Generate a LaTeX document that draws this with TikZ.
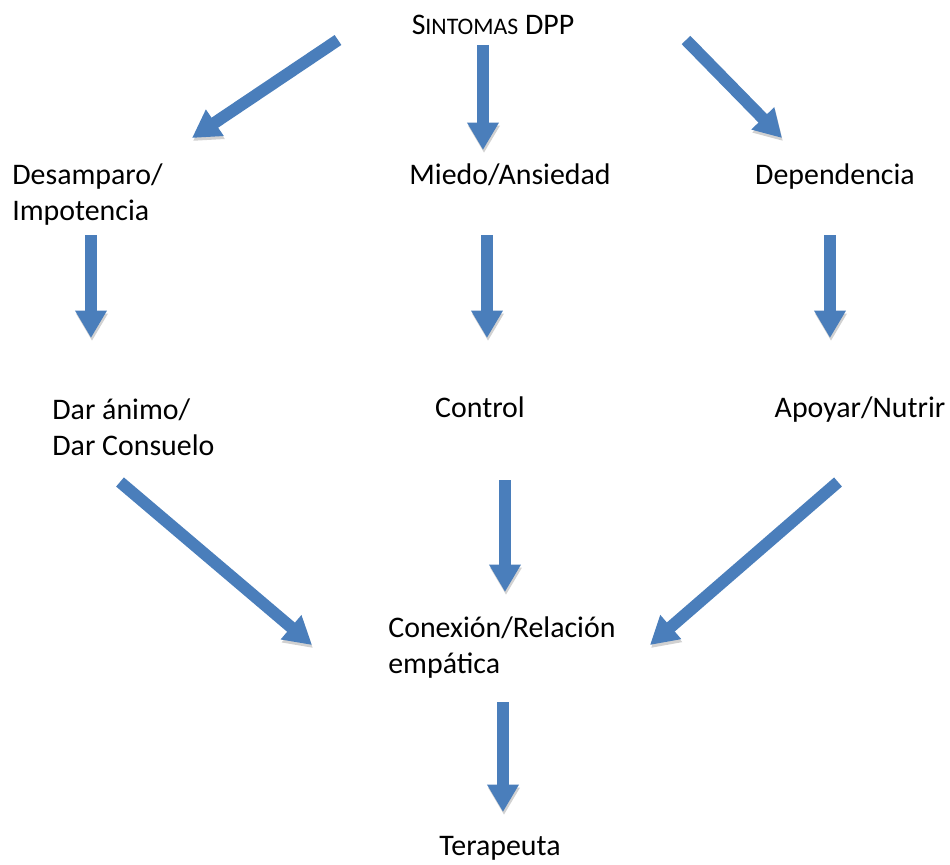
\documentclass[tikz,border=0pt]{standalone}
\usepackage{fontspec}
\setmainfont{Carlito}
\usepackage{tikz}
\usetikzlibrary{calc,positioning}
\usetikzlibrary{arrows.meta}
\definecolor{officeblue}{RGB}{74,126,187}

\begin{document}
\begin{tikzpicture}[x=0.02cm, y=-0.02cm]
      \tikzstyle{tnode} = [inner sep = 0pt, font=\fontsize{17}{20}\selectfont]
      \tikzstyle{lnode} = [tnode, align=left, anchor=base west]
      \tikzstyle{barrow} = [line width=0.24cm, draw=officeblue, -{Triangle[width=0.6cm,length=0.55cm]},
                            preaction={draw=black!18, transform canvas={shift={(1,3)}}}]

      \useasboundingbox (0,0) rectangle (950,865);

      % level 0
      \node[tnode, anchor=base] (sint) at (493,35) {S{\fontsize{13.5}{20}\selectfont INTOMAS} DPP};

      % level 1
      \node[lnode] (desa) at (12,220) {Desamparo/\\Impotencia};
      \node[tnode, anchor=base] (miedo) at (510,184) {Miedo/Ansiedad};
      \node[tnode, anchor=base] (depe) at (835,184) {Dependencia};

      % level 2
      \node[lnode] (animo) at (52,455) {Dar ánimo/\\Dar Consuelo};
      \node[tnode, anchor=base] (ctrl) at (480,417) {Control};
      \node[tnode, anchor=base] (apoy) at (860,417) {Apoyar/Nutrir};

      % level 3 and 4
      \node[lnode] (conex) at (388,673) {Conexión/Relación\\empática};
      \node[tnode, anchor=base] (tera) at (500,855) {Terapeuta};

      % edge level0 to level1
      \draw[barrow] ([shift={(-155,5)}]sint.base) -- ([shift={(180,-82)}]desa.base west);
      \draw[barrow] ([shift={(-10,10)}]sint.base) -- ([shift={(-27,-34)}]miedo.base);
      \draw[barrow] ([shift={(193,5)}]sint.base) -- ([shift={(-53,-46)}]depe.base);

      % edge level1 to level2
      \draw[barrow] ([shift={(79,15)}]desa.base west) -- ([shift={(39,-117)}]animo.base west);
      \draw[barrow] ([shift={(-23,51)}]miedo.base) -- ([shift={(7,-79)}]ctrl.base);
      \draw[barrow] ([shift={(-5,51)}]depe.base) -- ([shift={(-30,-79)}]apoy.base);

      % edge level2 to level3
      \draw[barrow] ([shift={(68,27)}]animo.base west) -- ([shift={(-76,-28)}]conex.base west);
      \draw[barrow] ([shift={(25,63)}]ctrl.base) -- ([shift={(117,-81)}]conex.base west);
      \draw[barrow] ([shift={(-22,65)}]apoy.base) -- ([shift={(262,-28)}]conex.base west);

      % edge level3 to level4
      \draw[barrow] ([shift={(115,29)}]conex.base west) -- ([shift={(3,-43)}]tera.base);
\end{tikzpicture}
\end{document}
